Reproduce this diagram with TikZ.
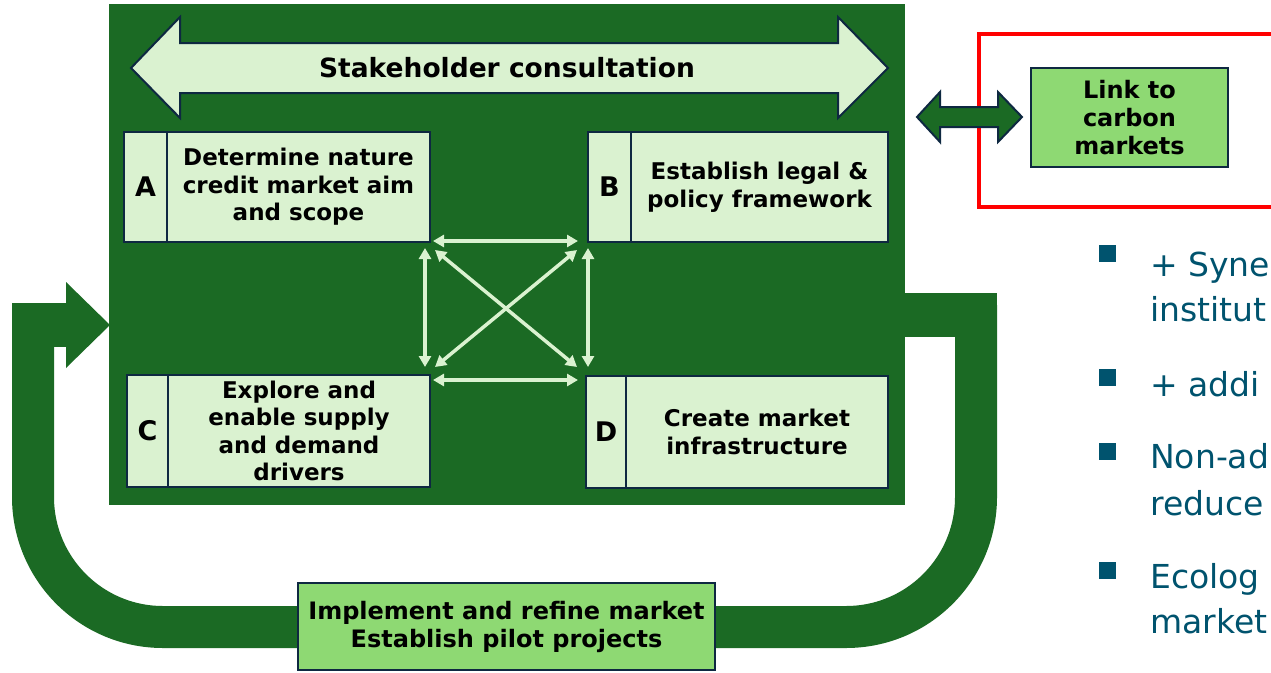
\documentclass[tikz,border=0pt]{standalone}
\usepackage{fontspec}
\setmainfont{DejaVu Sans}
\usetikzlibrary{arrows.meta}
\definecolor{dkgreen}{RGB}{27,106,36}
\definecolor{lightbox}{RGB}{218,242,208}
\definecolor{linkgreen}{RGB}{142,217,115}
\definecolor{navy}{RGB}{14,40,65}
\definecolor{bluetext}{RGB}{0,83,110}
\begin{document}
\begin{tikzpicture}[x=1pt,y=-1pt,
  box/.style={draw=navy, line width=2.5pt, fill=lightbox, inner sep=0pt, align=center, text=black,
    font=\fontsize{23}{27.5}\selectfont\bfseries},
  letterbox/.style={box, font=\fontsize{27}{30}\selectfont\bfseries},
  greenbox/.style={box, fill=linkgreen, font=\fontsize{24}{28}\selectfont\bfseries},
  band/.style={line width=42pt, draw=dkgreen},
  inarrow/.style={draw=lightbox, line width=3.5pt, {Triangle[length=11pt,width=12pt]}-{Triangle[length=11pt,width=12pt]}},
  bullet/.style={fill=bluetext, minimum size=17pt, inner sep=0pt},
  btext/.style={text=bluetext, font=\fontsize{33}{40}\selectfont, inner sep=0pt, anchor=base west}]
\useasboundingbox (0,0) rectangle (1271,672);
\clip (0,0) rectangle (1271,672);
\fill[white] (0,0) rectangle (1271,672);

% feedback loop band
\draw[band, rounded corners=130pt] (976,305) -- (976,627) -- (33,627) -- (33,315);
\fill[dkgreen] (880,293) rectangle (997,337);
\fill[dkgreen] (12,303) rectangle (66,347);
\fill[dkgreen] (66,282) -- (110,325) -- (66,368) -- cycle;

% main panel
\fill[dkgreen] (109,4) rectangle (905,505);

% stakeholder double arrow
\filldraw[fill=lightbox, draw=navy, line width=2pt, line join=miter]
  (131,68) -- (180,17) -- (180,43) -- (838,43) -- (838,17) -- (888,68)
  -- (838,118) -- (838,93) -- (180,93) -- (180,118) -- cycle;
\node[font=\fontsize{26.5}{30}\selectfont\bfseries, text=black] (sc) at (507,68) {Stakeholder consultation};

% boxes
\node[letterbox, minimum width=43pt, minimum height=110pt] (Al) at (145.5,187) {A};
\node[box, minimum width=263pt, minimum height=110pt] (A) at (298.5,187) {Determine nature\\credit market aim\\and scope};
\node[letterbox, minimum width=43pt, minimum height=110pt] (Bl) at (609.5,187) {B};
\node[box, minimum width=257pt, minimum height=110pt] (B) at (759.5,187) {Establish legal \&\\policy framework};
\node[letterbox, minimum width=41pt, minimum height=112pt] (Cl) at (147.5,431) {C};
\node[box, minimum width=262pt, minimum height=112pt] (C) at (299,431) {Explore and\\enable supply\\and demand\\drivers};
\node[letterbox, minimum width=40pt, minimum height=112pt] (Dl) at (606,432) {D};
\node[box, minimum width=262pt, minimum height=112pt] (D) at (757,432) {Create market\\infrastructure};

% inner arrows
\coordinate (pAr) at (433,241);
\coordinate (pBl) at (578,241);
\coordinate (pCr) at (433,380);
\coordinate (pDl) at (578,380);
\coordinate (pAd) at (425,248);
\coordinate (pCu) at (425,367);
\coordinate (pBd) at (588,248);
\coordinate (pDu) at (588,367);
\coordinate (dA) at (435,250);
\coordinate (dD) at (577,367);
\coordinate (dB) at (577,250);
\coordinate (dC) at (435,367);
\draw[inarrow] (pAr) -- (pBl);
\draw[inarrow] (pCr) -- (pDl);
\draw[inarrow] (pAd) -- (pCu);
\draw[inarrow] (pBd) -- (pDu);
\draw[inarrow] (dA) -- (dD);
\draw[inarrow] (dB) -- (dC);

% bottom box
\node[greenbox, minimum width=417pt, minimum height=87pt] (impl) at (506.5,626.5) {Implement and refine market\\Establish pilot projects};

% carbon link
\draw[red, line width=4pt] (979,34) rectangle (1300,207);
\filldraw[fill=dkgreen, draw=navy, line width=2pt, line join=miter]
  (917,117) -- (940,92) -- (940,107) -- (998,107) -- (998,92) -- (1022,117)
  -- (998,142) -- (998,127) -- (940,127) -- (940,142) -- cycle;
\node[greenbox, minimum width=197pt, minimum height=99pt] (link) at (1129.5,117.5) {Link to\\carbon\\markets};

% bullets
\node[bullet] (b1) at (1107.5,253.5) {};
\node[bullet] (b2) at (1107.5,377) {};
\node[bullet] (b3) at (1107.5,451) {};
\node[bullet] (b4) at (1107.5,570) {};
\node[btext] (t1a) at (1150,276) {+ Syne};
\node[btext] (t1b) at (1150,321) {institut};
\node[btext] (t2) at (1150,396) {+ addi};
\node[btext] (t3a) at (1150,468) {Non-ad};
\node[btext] (t3b) at (1150,515) {reduce};
\node[btext] (t4a) at (1150,588) {Ecolog};
\node[btext] (t4b) at (1150,633) {market};
\end{tikzpicture}
\end{document}
